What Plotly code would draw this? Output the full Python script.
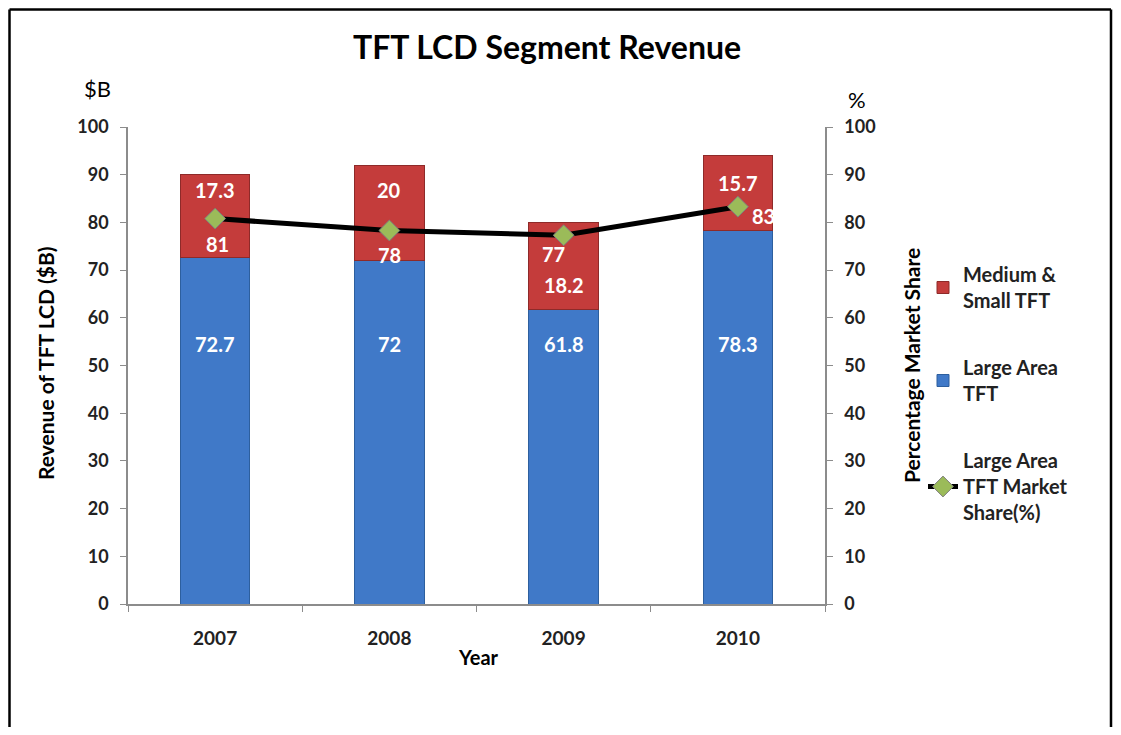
import plotly.graph_objects as go

years = ["2007", "2008", "2009", "2010"]
large_area = [72.7, 72, 61.8, 78.3]
medium_small = [17.3, 20, 18.2, 15.7]
market_share = [80.8, 78.3, 77.3, 83.3]
share_labels = ["81", "78", "77", "83"]

FONT = "Lato"
BLUE = "#4079c8"
RED = "#c43c3b"

fig = go.Figure()
fig.add_trace(go.Bar(x=years, y=large_area, name="Large Area<br>TFT",
                     marker=dict(color=BLUE, line=dict(color="#2d5f9e", width=1)),
                     legendrank=2, legendgroup="b", yaxis="y"))
fig.add_trace(go.Bar(x=years, y=medium_small, name="Medium &<br>Small TFT",
                     marker=dict(color=RED, line=dict(color="#8e2a29", width=1)),
                     legendrank=1, legendgroup="a", yaxis="y"))
fig.add_trace(go.Scatter(x=years, y=market_share, name="Large Area<br>TFT Market<br>Share(%)",
                         mode="lines+markers",
                         line=dict(color="black", width=5),
                         marker=dict(symbol="diamond", size=16, color="#9bbb59",
                                     line=dict(color="#7f7f7f", width=1)),
                         legendrank=3, legendgroup="c", yaxis="y2"))

lab_font = dict(family=FONT, size=20, color="white", weight="bold")
annotations = []
# category axis: annotations use category index
for i, v in enumerate(large_area):
    annotations.append(dict(x=i, y=54.5, xref="x", yref="y", text=f"{v:g}",
                            showarrow=False, font=lab_font))
red_label_y = [86.8, 86.8, 66.9, 88.3]
for i, (v, ly) in enumerate(zip(medium_small, red_label_y)):
    annotations.append(dict(x=i, y=ly, xref="x", yref="y", text=f"{v:g}",
                            showarrow=False, font=lab_font))
share_label_y = [75.5, 73.2, 73.4, 81.3]
share_label_dx = [2, 0, -10, 26]
for i, (t, ly, dx) in enumerate(zip(share_labels, share_label_y, share_label_dx)):
    annotations.append(dict(x=i, y=ly, xref="x", yref="y2", text=t, xshift=dx,
                            showarrow=False, font=lab_font))

# page has an 8px body margin: work in reference pixel coords shifted by 8
OFF = 8
W, H = 1121 - 2 * OFF, 735 - 2 * OFF
L, T = 128 - OFF, 127 - OFF
R = W - (825 - OFF)
B = H - (604 - OFF)
pw, ph = W - L - R, H - T - B
def px(x):
    return (x - OFF - L) / pw
def py(y):
    return (H - B - (y - OFF)) / ph

def txt(x, y, text, size, bold=True, angle=0):
    return dict(x=px(x), y=py(y), xref="paper", yref="paper", text=text,
                xanchor="center", yanchor="middle", textangle=angle, showarrow=False,
                font=dict(family=FONT, size=size, color="black",
                          weight="bold" if bold else "normal"))

annotations += [
    txt(547, 46, "TFT LCD Segment Revenue", 32),
    txt(97, 88, "$B", 22, bold=False),
    txt(857, 99, "%", 22, bold=False),
    txt(479, 657, "Year", 20),
    txt(45, 363, "Revenue of TFT LCD ($B)", 21, angle=-90),
    txt(911, 365, "Percentage Market Share", 21, angle=-90),
]

tick_font = dict(family=FONT, size=18, color="#222222", weight="bold")
xtick_font = dict(family=FONT, size=19, color="#222222", weight="bold")

def line(x0, y0, x1, y1):
    return dict(type="line", xref="paper", yref="paper",
                x0=px(x0), y0=py(y0), x1=px(x1), y1=py(y1),
                line=dict(color="black", width=2.5), layer="above")

fig.update_layout(
    width=W, height=H,
    margin=dict(l=L, r=R, t=T, b=B),
    paper_bgcolor="white", plot_bgcolor="white",
    barmode="stack", bargap=0.6,
    showlegend=True,
    legend=dict(x=px(923), y=py(255), xanchor="left", yanchor="top",
                traceorder="grouped", tracegroupgap=38,
                font=dict(family=FONT, size=20, color="#222222", weight="bold"),
                bgcolor="rgba(0,0,0,0)"),
    xaxis=dict(type="category", range=[-0.5, 3.5], showline=True, linecolor="#8c8c8c", linewidth=1.5,
               ticks="outside", tickson="boundaries", ticklen=6, tickcolor="#8c8c8c",
               tickfont=xtick_font, ticklabelstandoff=16,
               showgrid=False),
    yaxis=dict(range=[0, 100], dtick=10, showline=True, linecolor="#8c8c8c", linewidth=1.5,
               ticks="outside", ticklen=6, tickcolor="#8c8c8c", showgrid=False,
               tickfont=tick_font, zeroline=False, ticklabelstandoff=8),
    yaxis2=dict(range=[0, 100], dtick=10, overlaying="y", side="right",
                showline=True, linecolor="#8c8c8c", linewidth=1.5,
                ticks="outside", ticklen=6, tickcolor="#8c8c8c", showgrid=False,
                tickfont=tick_font, zeroline=False, ticklabelstandoff=8),
    annotations=annotations,
    shapes=[line(9.5, 9.5, 1111, 9.5), line(9.5, 9.5, 9.5, 740), line(1111, 9.5, 1111, 740)],
)

fig.write_html("out.html")
